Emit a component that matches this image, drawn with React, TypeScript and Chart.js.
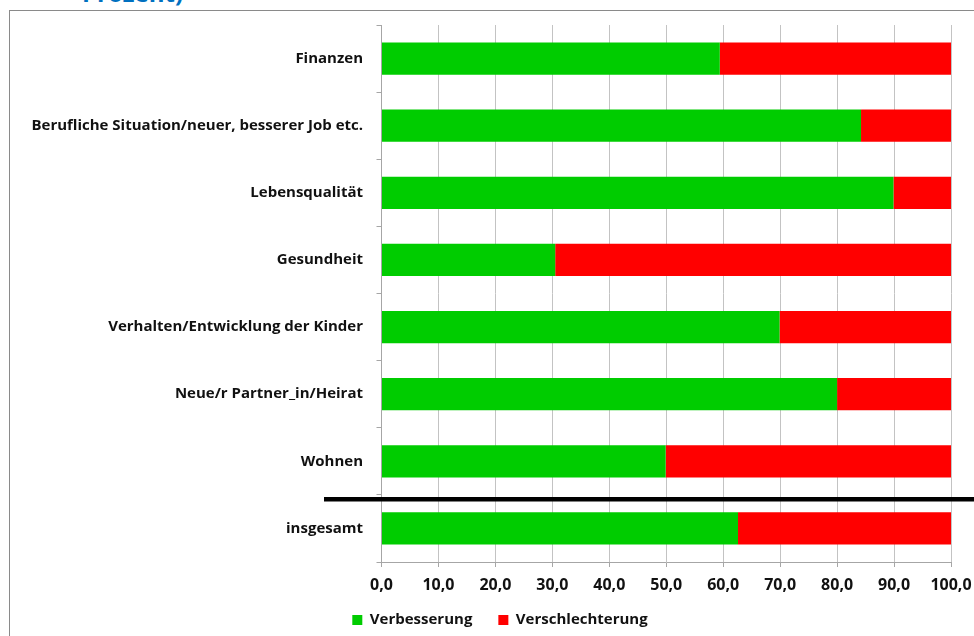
import React, { useEffect, useRef } from "react";
import { Chart, registerables } from "chart.js";

Chart.register(...registerables);

const categories: string[] = [
  "Finanzen",
  "Berufliche Situation/neuer, besserer Job etc.",
  "Lebensqualität",
  "Gesundheit",
  "Verhalten/Entwicklung der Kinder",
  "Neue/r Partner_in/Heirat",
  "Wohnen",
  "insgesamt",
];

const verbesserung: number[] = [59.4, 84.2, 89.9, 30.5, 69.9, 80.0, 49.9, 62.6];
const verschlechterung: number[] = [40.6, 15.8, 10.1, 69.5, 30.1, 20.0, 50.1, 37.4];

const seriesNames: string[] = ["Verbesserung", "Verschlechterung"];
const seriesColors: string[] = ["#00CC00", "#FF0000"];

const xMin = 0;
const xMax = 100;
const xStep = 10;

const titleFragment = "Prozent)";

const FONT = "'Open Sans', 'DejaVu Sans', sans-serif";

const separatorPlugin = {
  id: "separatorLine",
  afterDraw(chart: any) {
    const y = chart.scales.y;
    const ctx = chart.ctx;
    const n = categories.length;
    const boundary = (y.getPixelForValue(n - 2) + y.getPixelForValue(n - 1)) / 2;
    ctx.save();
    ctx.strokeStyle = "#000";
    ctx.lineWidth = 4.5;
    ctx.beginPath();
    ctx.moveTo(chart.chartArea.left - 57.5, boundary + 4.3);
    ctx.lineTo(chart.width, boundary + 4.3);
    ctx.stroke();
    ctx.restore();
  },
};

const legendPlacePlugin = {
  id: "legendPlace",
  afterLayout(chart: any) {
    const lg = chart.legend;
    if (!lg) return;
    const h = lg.height;
    lg.top = chart.chartArea.bottom + 24.5;
    lg.bottom = lg.top + h;
    lg.left = 49;
    lg.right = 951;
    lg.width = lg.right - lg.left;
  },
};

export default function App() {
  const canvasRef = useRef<HTMLCanvasElement | null>(null);

  useEffect(() => {
    if (!canvasRef.current) return;
    const chart = new Chart(canvasRef.current, {
      type: "bar",
      data: {
        labels: categories,
        datasets: [
          {
            label: seriesNames[0],
            data: verbesserung,
            backgroundColor: seriesColors[0],
            borderWidth: 0,
            barPercentage: 0.48,
            categoryPercentage: 1,
          },
          {
            label: seriesNames[1],
            data: verschlechterung,
            backgroundColor: seriesColors[1],
            borderWidth: 0,
            barPercentage: 0.48,
            categoryPercentage: 1,
          },
        ],
      },
      options: {
        indexAxis: "y",
        animation: false,
        responsive: false,
        maintainAspectRatio: false,
        devicePixelRatio: 1,
        layout: { padding: { left: 0, right: 23, top: 25, bottom: -16 } },
        plugins: {
          tooltip: { enabled: false },
          title: { display: false },
          legend: {
            display: true,
            position: "bottom",
            labels: {
              boxWidth: 10,
              boxHeight: 10,
              padding: 26,
              color: "#111",
              font: { family: FONT, size: 15, weight: "bold" },
            },
          },
        },
        scales: {
          x: {
            type: "linear",
            stacked: true,
            min: xMin,
            max: xMax,
            ticks: {
              stepSize: xStep,
              padding: 9,
              color: "#111",
              font: { family: FONT, size: 16, weight: "bold" },
              callback: (v: any) => Number(v).toFixed(1).replace(".", ","),
              maxRotation: 0,
            },
            grid: {
              color: "#c3c3c3",
              tickColor: "#a6a6a6",
              tickLength: 5,
              drawTicks: true,
            },
            border: { display: true, color: "#a6a6a6" },
            afterFit: (s: any) => {
              s.height = 39;
              s.paddingLeft = 0;
              s.paddingRight = 0;
            },
          },
          y: {
            type: "category",
            stacked: true,
            offset: true,
            ticks: {
              padding: 13.5,
              color: "#111",
              font: { family: FONT, size: 15, weight: "bold" },
              autoSkip: false,
            },
            grid: {
              offset: true,
              drawOnChartArea: false,
              drawTicks: true,
              tickLength: 5,
              color: "#a6a6a6",
            },
            border: { display: true, color: "#a6a6a6" },
            afterFit: (s: any) => {
              s.width = 381.5;
              s.paddingTop = 0;
              s.paddingBottom = 0;
            },
          },
        },
      },
      plugins: [separatorPlugin, legendPlacePlugin],
    } as any);
    return () => chart.destroy();
  }, []);

  return (
    <div
      style={{
        position: "fixed",
        left: 0,
        top: 0,
        width: 974,
        height: 636,
        overflow: "hidden",
        background: "#fff",
      }}
    >
      <div
        style={{
          position: "absolute",
          left: 82,
          top: -19,
          fontFamily: FONT,
          fontWeight: "bold",
          fontSize: 24,
          lineHeight: "24px",
          color: "#0070C0",
          whiteSpace: "nowrap",
        }}
      >
        {titleFragment}
      </div>
      <div
        style={{
          position: "absolute",
          left: 9,
          top: 10,
          width: 1100,
          height: 800,
          borderLeft: "1.5px solid #8a8a8a",
          borderTop: "1.5px solid #8a8a8a",
        }}
      />
      <canvas
        ref={canvasRef}
        width={974}
        height={636}
        style={{ position: "absolute", left: 0, top: 0, display: "block" }}
      />
    </div>
  );
}
